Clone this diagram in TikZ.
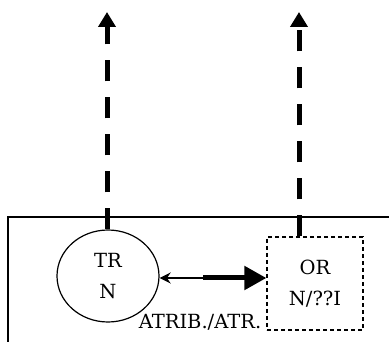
\documentclass[tikz,border=0pt]{standalone}
\usepackage{fontspec}
\setmainfont{DejaVu Serif}
\usepackage{tikz}
\usetikzlibrary{arrows.meta,shapes,positioning}
\tikzstyle{uparrow} = [line width=5pt,dash pattern=on 21pt off 16pt,-{Triangle[length=15pt,width=17pt]}]
\tikzstyle{thinarrow} = [line width=2pt,-{Stealth[length=11pt,width=11pt]}]
\tikzstyle{thickarrow} = [line width=5pt,-{Triangle[length=22pt,width=23pt]}]
\tikzstyle{txt} = [font=\fontsize{19.5}{31}\selectfont, align=center]

\begin{document}
\begin{tikzpicture}[x=1pt, y=-1pt]
    \useasboundingbox (0,0) rectangle (389,342);

    % Frame
    \draw[line width=1.2pt] (389,217) -- (8,217) -- (8,342);

    % Nodes
    \node[txt, draw, ellipse, line width=1.2pt, minimum width=102pt, minimum height=92pt, inner sep=0pt] (trn) at (108,276) {TR\\N};
    \node[txt, draw, dashed, dash pattern=on 4pt off 3pt, line width=1.2pt, minimum width=96pt, minimum height=93pt, inner sep=0pt] (orn) at (315,283.5) {OR\\N/??I};
    \node[txt] (atr) at (200,322) {ATRIB./ATR.};

    % Arrows
    \coordinate (upL) at (107,12);
    \coordinate (upR) at (299,12);
    \coordinate (mid) at (203,278);
    \draw[uparrow] (trn.north -| upL) -- (upL);
    \draw[uparrow] (orn.north -| upR) -- (upR);
    \draw[thinarrow] (mid) -- (mid -| trn.east);
    \draw[thickarrow] (mid) -- (mid -| orn.west);
\end{tikzpicture}
\end{document}
